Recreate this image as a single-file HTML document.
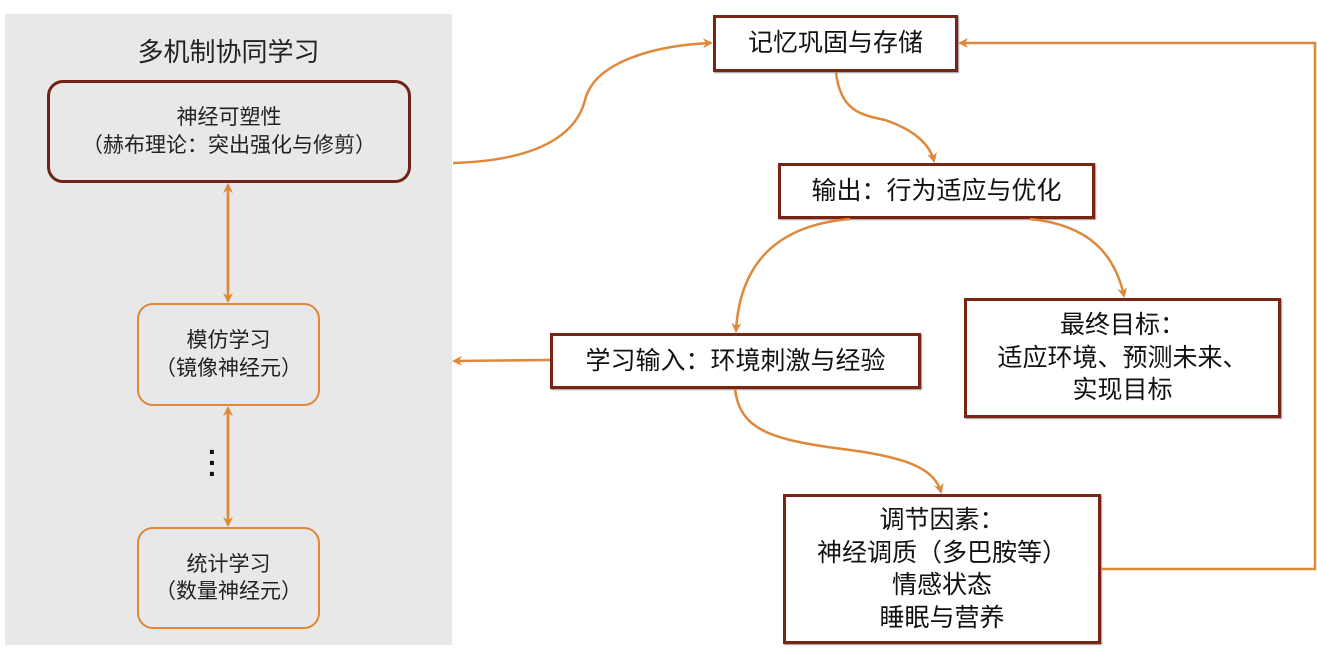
<!DOCTYPE html>
<html><head><meta charset="utf-8"><style>
body{margin:0;width:1317px;height:651px;background:#fff;position:relative;overflow:hidden;font-family:"Liberation Sans","Noto Sans CJK SC",sans-serif;color:#111}
.b{position:absolute;box-sizing:border-box;display:flex;flex-direction:column;align-items:center;justify-content:center;text-align:center;line-height:1.3}
.r{border:3px solid #7a2414;background:#fff;font-size:25px;box-shadow:1px 1px 1px #999}
.l{border:2.5px solid #e0883a;border-radius:16px;background:#e8e8e8;font-size:21px;color:#222}
</style></head><body>
<div style="position:absolute;left:5px;top:14px;width:447px;height:631px;background:#e8e8e8"></div>
<div style="position:absolute;left:5px;width:447px;top:32px;text-align:center;font-size:26px;color:#222">多机制协同学习</div>
<div class="b l" style="left:47px;top:80px;width:364px;height:103px;border-color:#6e2316;border-width:3px">神经可塑性<br>（赫布理论：突出强化与修剪）</div>
<div class="b l" style="left:137px;top:303px;width:183px;height:103px">模仿学习<br>（镜像神经元）</div>
<div class="b l" style="left:137px;top:527px;width:183px;height:102px">统计学习<br>（数量神经元）</div>
<div style="position:absolute;left:208px;top:446px;font-size:28px;font-weight:bold;line-height:11px">·<br>·<br>·</div>
<div class="b r" style="left:713px;top:15px;width:245px;height:57px">记忆巩固与存储</div>
<div class="b r" style="left:778px;top:163px;width:317px;height:56px">输出：行为适应与优化</div>
<div class="b r" style="left:964px;top:298px;width:317px;height:120px">最终目标：<br>适应环境、预测未来、<br>实现目标</div>
<div class="b r" style="left:550px;top:333px;width:371px;height:56px">学习输入：环境刺激与经验</div>
<div class="b r" style="left:783px;top:494px;width:318px;height:150px;line-height:1.3">调节因素：<br>神经调质（多巴胺等）<br>情感状态<br>睡眠与营养</div>
<svg width="1317" height="651" style="position:absolute;left:0;top:0;pointer-events:none" fill="none" stroke="#e0883a" stroke-width="2.5">
<defs><marker id="a" markerWidth="10" markerHeight="10" refX="8" refY="5" orient="auto" markerUnits="userSpaceOnUse"><path d="M0,0 L10,5 L0,10 L3,5z" fill="#e0883a" stroke="none"/></marker></defs>
<line x1="228" y1="290" x2="228" y2="185" marker-end="url(#a)"/>
<line x1="228" y1="195" x2="228" y2="301" marker-end="url(#a)"/>
<line x1="228" y1="515" x2="228" y2="408" marker-end="url(#a)"/>
<line x1="228" y1="410" x2="228" y2="525" marker-end="url(#a)"/>
<path d="M453,163 C560,160 580,120 585,100 C595,60 660,45 711,43" marker-end="url(#a)"/>
<path d="M836,72 C840,110 860,115 885,120 C915,130 930,145 934,161" marker-end="url(#a)"/>
<path d="M850,219 C780,225 740,260 736,331" marker-end="url(#a)"/>
<path d="M1030,219 C1090,225 1115,255 1124,296" marker-end="url(#a)"/>
<path d="M735,389 C740,430 770,440 850,450 C910,458 935,470 941,492" marker-end="url(#a)"/>
<path d="M550,360 L454,361" marker-end="url(#a)"/>
<path d="M1101,569 L1315,569 L1315,43 L960,43" marker-end="url(#a)"/>
</svg>
</body></html>
